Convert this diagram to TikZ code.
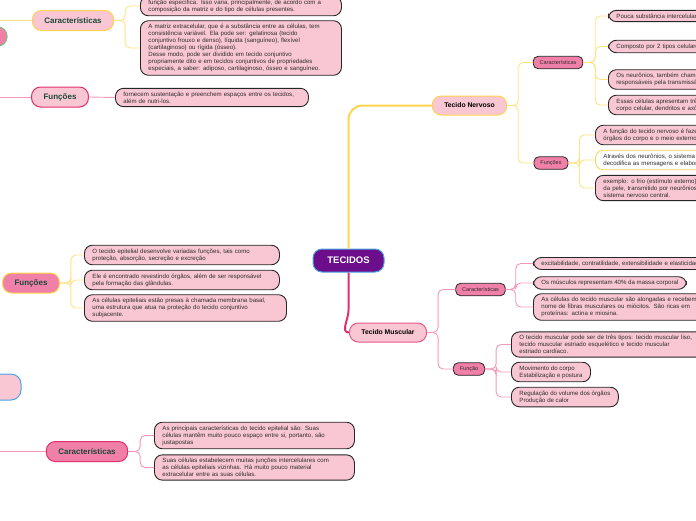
\documentclass[tikz,border=0pt]{standalone}
\usepackage{fontspec}
\setmainfont{Liberation Sans}
\usepackage{xcolor}
\definecolor{leafpink}{RGB}{249,198,211}
\definecolor{midpink}{RGB}{240,128,168}
\definecolor{rootpurple}{RGB}{108,13,140}
\definecolor{rootblue}{RGB}{75,163,227}
\definecolor{mapyellow}{RGB}{255,213,79}
\definecolor{lineyellow}{RGB}{255,226,130}
\definecolor{mapcrimson}{RGB}{226,48,108}
\definecolor{linepink}{RGB}{246,150,185}
\definecolor{topicgreen}{RGB}{28,72,58}
\definecolor{leaftext}{RGB}{45,45,45}
\definecolor{epigreen}{RGB}{120,190,120}

\begin{document}
\begin{tikzpicture}[x=1pt, y=-1pt,
leaf/.style={draw=black!85, line width=0.9pt, fill=leafpink, rounded corners=8pt, anchor=west,
inner xsep=8pt, inner ysep=3.4pt, align=left, font=\fontsize{6.1}{7}\selectfont, text=leaftext},
sub/.style={draw=black!85, line width=0.8pt, fill=midpink, rounded corners=5pt, minimum height=12.5pt,
inner xsep=6.5pt, inner ysep=0pt, font=\fontsize{5.5}{6.5}\selectfont, text=leaftext},
topic/.style={rounded corners=9pt, line width=1pt, minimum height=20pt, inner xsep=12pt,
font=\fontsize{8}{9}\selectfont\bfseries, text=topicgreen},
tissue/.style={fill=leafpink, rounded corners=9pt, line width=1pt, minimum height=19pt, inner xsep=12pt,
font=\fontsize{6.8}{8}\selectfont\bfseries},
root/.style={fill=rootpurple, draw=rootblue, line width=1pt, rounded corners=9pt, minimum width=71pt,
minimum height=23pt, text=white, font=\fontsize{9.5}{11}\selectfont\bfseries},
yline/.style={draw=lineyellow, line width=0.9pt, rounded corners=5pt},
pline/.style={draw=linepink, line width=0.9pt, rounded corners=5pt}
]
\useasboundingbox (0,0) rectangle (696,520);
\clip (0,0) rectangle (696,520);

\node[root] (tec) at (348.5,260.5) {TECIDOS};
\node[tissue, draw=mapyellow] (tn) at (469.5,105.5) {Tecido Nervoso};
\node[tissue, draw=mapcrimson!80] (tm) at (388,332.5) {Tecido Muscular};

\draw[draw=mapyellow, line width=2pt, rounded corners=14pt] (tec.north) |- (tn.west);
\draw[draw=mapcrimson, line width=2pt] (tec.south) -- ++(0,38) to[out=-90,in=180] (tm.west);

\node[sub] (carn) at (558,62.5) {Características};
\node[sub] (funn) at (551,163) {Funções};
\node[sub] (carm) at (480.5,289.5) {Características};
\node[sub] (funm) at (469,369) {Função};

\node[leaf, text width=220pt] (n1) at (608,16) {Pouca substância intercelular};
\node[leaf, text width=220pt] (n2) at (608,46.5) {Composto por 2 tipos celulares};
\node[leaf, text width=220pt] (n3) at (608,79.5) {Os neurônios, também chamados\\responsáveis pela transmissão};
\node[leaf, text width=220pt] (n4) at (608,105) {Essas células apresentam três\\corpo celular, dendritos e axônio};
\node[leaf, text width=220pt] (n5) at (595,135) {A função do tecido nervoso é fazer\\órgãos do corpo e o meio externo};
\node[leaf, text width=220pt, fill=white, draw=mapyellow] (n6) at (595,160) {Através dos neurônios, o sistema\\decodifica as mensagens e elabora};
\node[leaf, text width=220pt] (n7) at (595,188) {exemplo: o frio (estímulo externo)\\da pele, transmitido por neurônios\\sistema nervoso central.};

\node[leaf, text width=220pt] (m1) at (533,263.5) {excitabilidade, contratilidade, extensibilidade e elasticidade};
\node[leaf] (m2) at (533,283) {Os músculos representam 40\% da massa corporal};
\node[leaf, text width=220pt] (m3) at (533,307) {As células do tecido muscular são alongadas e recebem\\nome de fibras musculares ou miócitos. São ricas em\\proteínas: actina e miosina.};
\node[leaf, text width=220pt] (m4) at (511,344.5) {O tecido muscular pode ser de três tipos: tecido muscular liso,\\tecido muscular estriado esquelético e tecido muscular\\estriado cardíaco.};
\node[leaf] (m5) at (511,372) {Movimento do corpo\\Estabilização e postura};
\node[leaf] (m6) at (511,397) {Regulação do volume dos órgãos\\Produção de calor};

\draw[yline] (tn.east) -- ++(11,0) |- (carn.west);
\draw[yline] (tn.east) -- ++(11,0) |- (funn.west);
\foreach \n in {n1,n2,n3,n4}
  \draw[yline] (carn.east) -- ++(12,0) |- (\n.west);
\foreach \n in {n5,n6,n7}
  \draw[yline] (funn.east) -- ++(11,0) |- (\n.west);

\draw[pline] (tm.east) -- ++(11,0) |- (carm.west);
\draw[pline] (tm.east) -- ++(11,0) |- (funm.west);
\foreach \n in {m1,m2,m3}
  \draw[pline] (carm.east) -- ++(10,0) |- (\n.west);
\foreach \n in {m4,m5,m6}
  \draw[pline] (funm.east) -- ++(11,0) |- (\n.west);

\node[topic, fill=leafpink, draw=mapyellow] (cartl) at (73,20.5) {Características};
\node[topic, fill=leafpink, draw=mapcrimson] (funtl) at (60,97) {Funções};
\node[topic, fill=midpink, draw=mapyellow] (funml) at (31,283) {Funções};
\node[topic, fill=midpink, draw=mapcrimson] (carbl) at (87,451.5) {Características};
\node[fill=midpink, draw=epigreen, line width=1pt, rounded corners=9pt, minimum width=44pt, minimum height=19pt] (epi) at (-15,36.5) {};
\node[fill=leafpink, draw=rootblue, line width=1pt, rounded corners=10pt, minimum width=82pt, minimum height=26pt] (epb) at (-20,387) {};

\coordinate (ina) at (-3,20.5);
\coordinate (inb) at (-3,97);
\coordinate (ind) at (-3,451.5);

\node[leaf, text width=185pt] (ca) at (140,6) {função específica. Isso varia, principalmente, de acordo com a\\composição da matriz e do tipo de células presentes.};
\node[leaf, text width=185pt] (cb) at (140,48) {A matriz extracelular, que é a substância entre as células, tem\\consistência variável. Ela pode ser: gelatinosa (tecido\\conjuntivo frouxo e denso), líquida (sanguíneo), flexível\\(cartilaginoso) ou rígida (ósseo).\\Desse modo, pode ser dividido em tecido conjuntivo\\propriamente dito e em tecidos conjuntivos de propriedades\\especiais, a saber: adiposo, cartilaginoso, ósseo e sanguíneo.};
\node[leaf, text width=177pt] (cc) at (115,97.5) {fornecem sustentação e preenchem espaços entre os tecidos,\\além de nutri-los.};
\node[leaf, text width=179pt] (cd) at (84,255) {O tecido epitelial desenvolve variadas funções, tais como\\proteção, absorção, secreção e excreção};
\node[leaf, text width=179pt] (ce) at (84,280) {Ele é encontrado revestindo órgãos, além de ser responsável\\pela formação das glândulas.};
\node[leaf, text width=186pt] (cf) at (84,308) {As células epiteliais estão presas à chamada membrana basal,\\uma estrutura que atua na proteção do tecido conjuntivo\\subjacente.};
\node[leaf, text width=184pt] (cg) at (154,435.5) {As principais características do tecido epitelial são: Suas\\células mantêm muito pouco espaço entre si, portanto, são\\justapostas};
\node[leaf, text width=184pt] (ch) at (154,467.5) {Suas células estabelecem muitas junções intercelulares com\\as células epiteliais vizinhas. Há muito pouco material\\extracelular entre as suas células.};

\draw[yline] (ina) -- (cartl.west);
\draw[yline] (cartl.east) -- ++(11,0) |- (ca.west);
\draw[yline] (cartl.east) -- ++(11,0) |- (cb.west);
\draw[pline] (inb) -- (funtl.west);
\draw[pline] (funtl.east) -- (cc.west);
\foreach \n in {cd,ce,cf}
  \draw[yline] (funml.east) -- ++(11,0) |- (\n.west);
\draw[pline] (ind) -- (carbl.west);
\draw[pline] (carbl.east) -- ++(12,0) |- (cg.west);
\draw[pline] (carbl.east) -- ++(12,0) |- (ch.west);

\end{tikzpicture}
\end{document}
